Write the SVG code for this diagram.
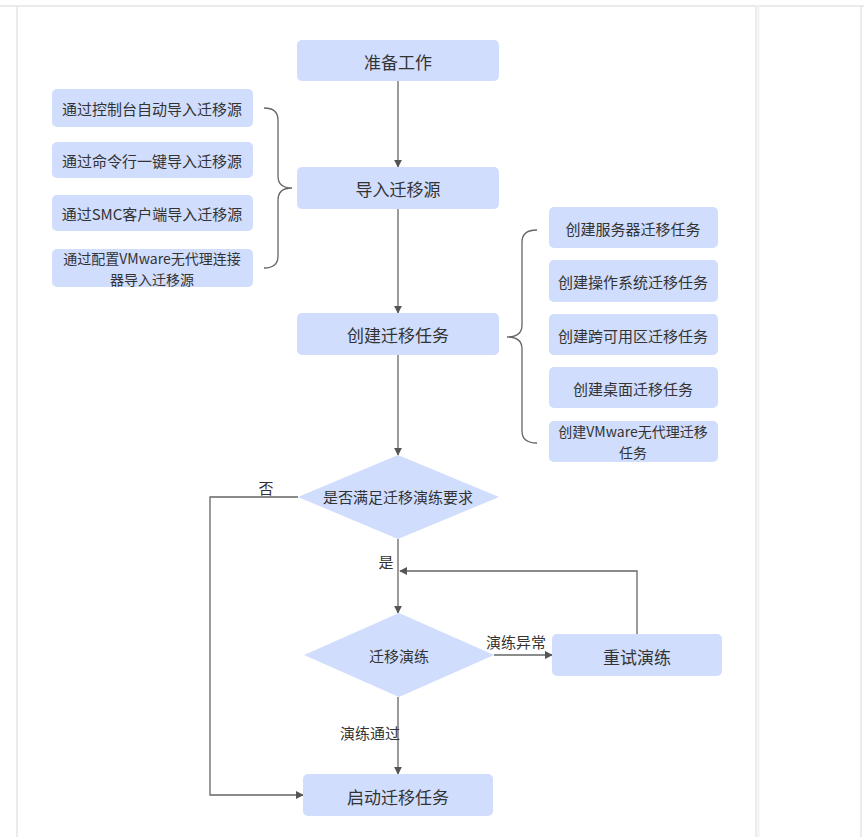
<svg xmlns="http://www.w3.org/2000/svg" width="864" height="837" viewBox="0 0 864 837">
<defs>
<style>
.n{fill:#d0ddfc;}
.t{font-family:"Noto Sans CJK SC","Microsoft YaHei",sans-serif;fill:#333;text-anchor:middle;dominant-baseline:central;}
.big{font-size:17px;}
.sm{font-size:15px;}
.xs{font-size:14px;}
.c{fill:none;stroke:#666;stroke-width:1.3;}
.frame{stroke:#e4e4e4;stroke-width:1.5;fill:none;}
</style>
<marker id="ah" viewBox="0 0 10 10" refX="9" refY="5" markerWidth="8" markerHeight="8" markerUnits="userSpaceOnUse" orient="auto">
<path d="M0,0 L10,5 L0,10 z" fill="#555"/>
</marker>
</defs>
<rect width="864" height="837" fill="#fff"/>
<g id="frame">
<line class="frame" x1="0" y1="6" x2="864" y2="6"/>
<line class="frame" x1="17" y1="6" x2="17" y2="837"/>
<line class="frame" x1="756" y1="6" x2="756" y2="837"/>
<line x1="758" y1="6" x2="758" y2="837" stroke="#f3f3f3" stroke-width="3"/>
<line class="frame" x1="861" y1="6" x2="861" y2="837"/>
</g>
<g id="connectors">
<path class="c" d="M398,81 V167" marker-end="url(#ah)"/>
<path class="c" d="M398,209 V313" marker-end="url(#ah)"/>
<path class="c" d="M398,355 V455" marker-end="url(#ah)"/>
<path class="c" d="M398,539 V613" marker-end="url(#ah)"/>
<path class="c" d="M494,655 H552" marker-end="url(#ah)"/>
<path class="c" d="M637,634 V571 H400" marker-end="url(#ah)"/>
<path class="c" d="M398,697 V774" marker-end="url(#ah)"/>
<path class="c" d="M298,497 H210 V795 H303" marker-end="url(#ah)"/>
<path class="c" d="M264,108 Q278,108 278,120 V176 Q278,188 292,188 Q278,188 278,200 V256 Q278,268 264,268"/>
<path class="c" d="M537,230 Q522,230 522,242 V325 Q522,337 507,337 Q522,337 522,349 V431 Q522,443 537,443"/>
<text class="t sm" x="266" y="487">否</text>
<text class="t sm" x="386" y="561">是</text>
<text class="t sm" x="516" y="641">演练异常</text>
<text class="t sm" x="370" y="732">演练通过</text>
</g>
<g id="n1"><rect class="n" x="297" y="40" width="202" height="41" rx="5"/><text class="t big" x="398" y="61">准备工作</text></g>
<g id="n2"><rect class="n" x="297" y="167" width="202" height="42" rx="5"/><text class="t big" x="398" y="188">导入迁移源</text></g>
<g id="n3"><rect class="n" x="297" y="313" width="202" height="42" rx="5"/><text class="t big" x="398" y="334">创建迁移任务</text></g>
<g id="d1"><polygon class="n" points="398,455 499,497 398,539 298,497"/><text class="t sm" x="398" y="496">是否满足迁移演练要求</text></g>
<g id="d2"><polygon class="n" points="399,613 494,655 399,697 304,655"/><text class="t sm" x="399" y="655">迁移演练</text></g>
<g id="n4"><rect class="n" x="552" y="634" width="170" height="42" rx="5"/><text class="t big" x="637" y="656">重试演练</text></g>
<g id="n5"><rect class="n" x="303" y="774" width="190" height="42" rx="5"/><text class="t big" x="398" y="796">启动迁移任务</text></g>
<g id="l1"><rect class="n" x="52" y="89" width="201" height="38" rx="5"/><text class="t sm" x="152" y="108">通过控制台自动导入迁移源</text></g>
<g id="l2"><rect class="n" x="52" y="142" width="201" height="36" rx="5"/><text class="t sm" x="152" y="160">通过命令行一键导入迁移源</text></g>
<g id="l3"><rect class="n" x="52" y="195" width="201" height="36" rx="5"/><text class="t sm" x="152" y="213">通过SMC客户端导入迁移源</text></g>
<g id="l4"><rect class="n" x="52" y="249" width="201" height="38" rx="5"/><text class="t xs" x="152" y="257.5">通过配置VMware无代理连接</text><text class="t xs" x="152" y="278.5">器导入迁移源</text></g>
<g id="r1"><rect class="n" x="549" y="207" width="169" height="41" rx="5"/><text class="t sm" x="633" y="228">创建服务器迁移任务</text></g>
<g id="r2"><rect class="n" x="549" y="260" width="169" height="42" rx="5"/><text class="t sm" x="633" y="281">创建操作系统迁移任务</text></g>
<g id="r3"><rect class="n" x="549" y="314" width="169" height="41" rx="5"/><text class="t sm" x="633" y="335">创建跨可用区迁移任务</text></g>
<g id="r4"><rect class="n" x="549" y="367" width="169" height="41" rx="5"/><text class="t sm" x="633" y="388">创建桌面迁移任务</text></g>
<g id="r5"><rect class="n" x="549" y="421" width="169" height="41" rx="5"/><text class="t xs" x="633" y="431">创建VMware无代理迁移</text><text class="t xs" x="633" y="452">任务</text></g>
</svg>
